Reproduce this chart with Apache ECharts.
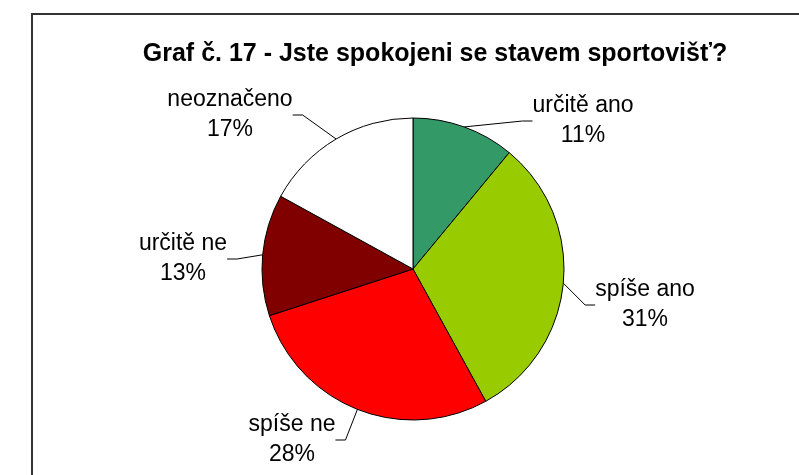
<!DOCTYPE html>
<html>
<head>
<meta charset="utf-8">
<script src="https://cdn.jsdelivr.net/npm/echarts@6/dist/echarts.min.js"></script>
<style>
  html, body { margin: 0; padding: 0; background: #fff; }
  #chart { width: 799px; height: 475px; }
</style>
</head>
<body>
<div id="chart"></div>
<script>
const TITLE = 'Graf č. 17 - Jste spokojeni se stavem sportovišť?'
const categories = ['určitě ano', 'spíše ano', 'spíše ne', 'určitě ne', 'neoznačeno']
const percents = [11, 31, 28, 13, 17]
const colors = ['#339966', '#99cc00', '#ff0000', '#800000', '#ffffff']

// where Excel put each two-line label (centre of the text block)
const labelAnchor = [
  [583, 121],
  [645, 305],
  [292, 440],
  [183, 259],
  [230, 115]
]

const chart = echarts.init(document.getElementById('chart'))

const option = {
  backgroundColor: '#fff',
  animation: false,
  title: {
    text: TITLE,
    left: 430,
    top: 37,
    textAlign: 'center',
    textStyle: {
      fontFamily: 'Liberation Sans',
      fontWeight: 'bold',
      fontSize: 25,
      color: '#000'
    }
  },
  graphic: [
    {
      type: 'rect',
      z: -1,
      shape: { x: 32, y: 14, width: 800, height: 500 },
      style: { fill: 'none', stroke: '#333', lineWidth: 2 }
    }
  ],
  series: [
    {
      type: 'pie',
      center: [413, 269],
      radius: 151,
      startAngle: 90,
      clockwise: true,
      data: categories.map((name, i) => ({
        name: name,
        value: percents[i],
        itemStyle: { color: colors[i] }
      })),
      itemStyle: {
        borderColor: '#000',
        borderWidth: 1
      },
      label: {
        show: true,
        position: 'outside',
        formatter: '{b}\n{c}%',
        fontFamily: 'Liberation Sans',
        fontSize: 23,
        lineHeight: 30,
        color: '#000',
        align: 'center'
      },
      labelLine: {
        show: true,
        length: 15,
        length2: 10,
        lineStyle: { color: '#000', width: 1 }
      },
      labelLayout: (params) => ({
        x: labelAnchor[params.dataIndex][0],
        y: labelAnchor[params.dataIndex][1],
        align: 'center',
        verticalAlign: 'middle'
      }),
      emphasis: { disabled: true }
    }
  ]
}

chart.setOption(option)
</script>
</body>
</html>
